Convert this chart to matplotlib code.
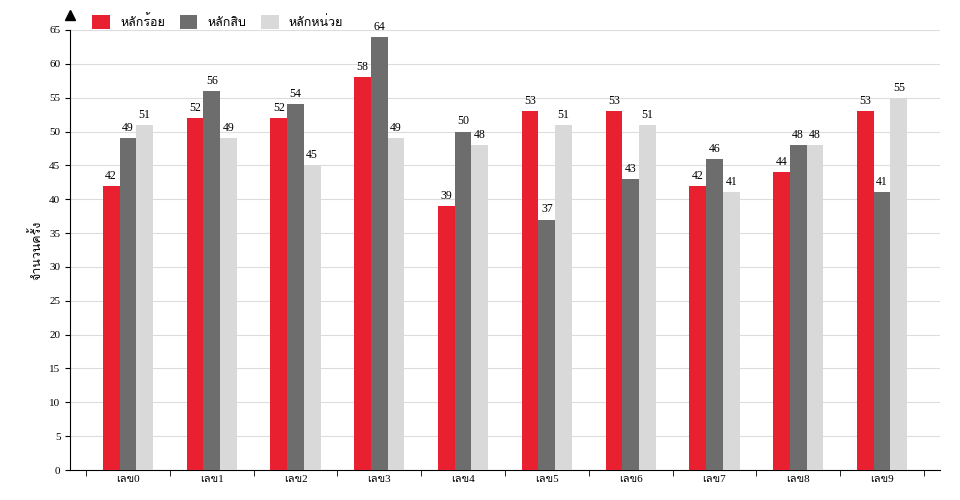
import matplotlib
matplotlib.use("Agg")
import matplotlib.pyplot as plt
from matplotlib import font_manager
import numpy as np

categories = ["เลข0","เลข1","เลข2","เลข3","เลข4","เลข5","เลข6","เลข7","เลข8","เลข9"]
hundreds = [42,52,52,58,39,53,53,42,44,53]
tens = [49,56,54,64,50,37,43,46,48,41]
units = [51,49,45,49,48,51,51,41,48,55]
series_names = ["หลักร้อย","หลักสิบ","หลักหน่วย"]
colors = ["#e8202f","#6d6d6d","#d9d9d9"]

# find an installed family with Thai glyphs
thai_fams = []
try:
    from fontTools.ttLib import TTFont
    for fe in font_manager.fontManager.ttflist:
        if fe.name in thai_fams:
            continue
        try:
            f = TTFont(fe.fname, fontNumber=0, lazy=True)
            cmap = f.getBestCmap()
            if cmap and ord('ก') in cmap:
                thai_fams.append(fe.name)
        except Exception:
            pass
except Exception:
    pass

plt.rcParams['font.family'] = ['Liberation Serif'] + thai_fams + ['DejaVu Sans']
fig = plt.figure(figsize=(9.6,5), dpi=100)
ax = fig.add_axes([0.073,0.06,0.906,0.88])
x = np.arange(len(categories))
w = 0.2
for i,(vals,name,c) in enumerate(zip([hundreds,tens,units],series_names,colors)):
    bars = ax.bar(x+(i-1)*w, vals, w, color=c, label=name, zorder=3)
    for b,v in zip(bars,vals):
        ax.text(b.get_x()+b.get_width()/2, v+0.6, str(v), ha='center', va='bottom', fontsize=8.5)
ax.set_xlim(-0.69, len(categories)-1+0.69)
ax.set_ylim(0,65)
ax.set_yticks(range(0,66,5))
ax.grid(axis='y', color='#dddddd', lw=0.8, zorder=0)
for s in ['top','right']:
    ax.spines[s].set_visible(False)
ax.set_xticks(x)
ax.set_xticklabels(categories, fontsize=8)
ax.set_xticks(np.arange(-0.5,len(categories),1), minor=True)
ax.tick_params(axis='x', which='major', length=0)
ax.tick_params(axis='x', which='minor', length=4)
ax.tick_params(axis='y', labelsize=8)
ax.set_ylabel("จำนวนครั้ง", fontsize=9)
ax.plot([0],[1.035], marker='^', color='black', markersize=7, transform=ax.transAxes, clip_on=False)
ax.legend(loc='lower left', bbox_to_anchor=(0.02,0.99), ncol=3, frameon=False, fontsize=9,
          handlelength=1.4, handleheight=1.4, columnspacing=1.2, borderaxespad=0)
fig.savefig("out.png", dpi=100)
